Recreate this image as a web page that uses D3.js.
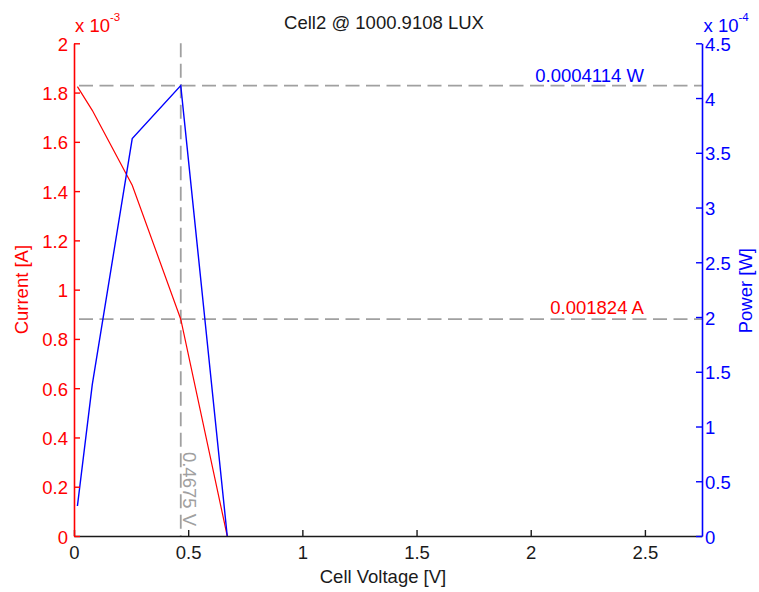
<!DOCTYPE html>
<html>
<head>
<meta charset="utf-8">
<script src="https://cdn.jsdelivr.net/npm/d3@7"></script>
<style>
  html, body { margin: 0; padding: 0; background: #fff; }
  svg { display: block; }
  text { font-family: "Liberation Sans", Arial, sans-serif; }
</style>
</head>
<body>
<svg id="chart" width="759" height="592"></svg>
<script>
// I-V sweep of the cell: voltage [V], current [A], power [W]
const voltage = [0.015, 0.08, 0.255, 0.4675, 0.671];
const current = [1.824e-3, 1.728e-3, 1.424e-3, 0.880e-3, 0];
const power   = [0.274e-4, 1.382e-4, 3.63e-4, 4.114e-4, 0];

// maximum power point and short-circuit current
const vmp  = 0.4675;
const pmax = 0.0004114;
const imp  = 0.880e-3;
const isc  = 0.001824;

// axis ticks
const voltageTicks = [0, 0.5, 1, 1.5, 2, 2.5];
const voltageTickLabels = ["0", "0.5", "1", "1.5", "2", "2.5"];
const currentTicks = [0, 0.2e-3, 0.4e-3, 0.6e-3, 0.8e-3, 1e-3, 1.2e-3, 1.4e-3, 1.6e-3, 1.8e-3, 2e-3];
const currentTickLabels = ["0", "0.2", "0.4", "0.6", "0.8", "1", "1.2", "1.4", "1.6", "1.8", "2"];
const powerTicks = [0, 0.5e-4, 1e-4, 1.5e-4, 2e-4, 2.5e-4, 3e-4, 3.5e-4, 4e-4, 4.5e-4];
const powerTickLabels = ["0", "0.5", "1", "1.5", "2", "2.5", "3", "3.5", "4", "4.5"];

const titleText = "Cell2 @ 1000.9108 LUX";
const xLabel = "Cell Voltage [V]";
const yLeftLabel = "Current [A]";
const yRightLabel = "Power [W]";

const RED = "#ff0000", BLUE = "#0000ff", GREY = "#a0a0a0", INK = "#1a1a1a";
const FS = 18.5;

const svg = d3.select("#chart");
const plotLeft = 74, plotRight = 702, plotTop = 43.3, plotBottom = 536;

const x  = d3.scaleLinear().domain([0, 2.75]).range([plotLeft, plotRight]);
const yI = d3.scaleLinear().domain([0, 2e-3]).range([plotBottom, plotTop]);
const yP = d3.scaleLinear().domain([0, 4.5e-4]).range([plotBottom, plotTop]);

// dashed guides at the maximum power point
const guides = svg.append("g")
  .attr("fill", "none")
  .attr("stroke", GREY)
  .attr("stroke-width", 1.8)
  .attr("stroke-dasharray", "14,6.5");
guides.append("line")
  .attr("x1", x(vmp)).attr("x2", x(vmp))
  .attr("y1", yI(2e-3)).attr("y2", yI(0));
guides.append("line")
  .attr("x1", x(0) + 5).attr("x2", plotRight)
  .attr("y1", yP(pmax)).attr("y2", yP(pmax));
guides.append("line")
  .attr("x1", x(0) + 5).attr("x2", plotRight)
  .attr("y1", yI(imp)).attr("y2", yI(imp));

// curves
const idx = d3.range(voltage.length);
svg.append("path")
  .datum(idx)
  .attr("fill", "none")
  .attr("stroke", RED)
  .attr("stroke-width", 1.2)
  .attr("d", d3.line().x(i => x(voltage[i])).y(i => yI(current[i])));
svg.append("path")
  .datum(idx)
  .attr("fill", "none")
  .attr("stroke", BLUE)
  .attr("stroke-width", 1.4)
  .attr("d", d3.line().x(i => x(voltage[i])).y(i => yP(power[i])));

// axes
function styleAxis(g, color, dy) {
  g.select(".domain").attr("stroke", color).attr("stroke-width", 1.6);
  g.selectAll(".tick line").attr("stroke", color).attr("stroke-width", 1.4);
  g.selectAll(".tick text")
    .attr("fill", color)
    .attr("font-size", FS)
    .attr("font-family", '"Liberation Sans", Arial, sans-serif');
  if (dy !== undefined) g.selectAll(".tick text").attr("dy", dy);
}

const gx = svg.append("g")
  .attr("transform", `translate(0,${plotBottom})`)
  .call(d3.axisBottom(x)
    .tickValues(voltageTicks)
    .tickFormat((d, i) => voltageTickLabels[i])
    .tickSizeInner(-6).tickSizeOuter(0).tickPadding(10));
styleAxis(gx, INK);

const gl = svg.append("g")
  .attr("transform", `translate(${plotLeft},0)`)
  .call(d3.axisLeft(yI)
    .tickValues(currentTicks)
    .tickFormat((d, i) => currentTickLabels[i])
    .tickSizeInner(-6).tickSizeOuter(0).tickPadding(6));
styleAxis(gl, RED, "0.38em");

const gr = svg.append("g")
  .attr("transform", `translate(${plotRight},0)`)
  .call(d3.axisRight(yP)
    .tickValues(powerTicks)
    .tickFormat((d, i) => powerTickLabels[i])
    .tickSizeInner(-6).tickSizeOuter(0).tickPadding(3));
styleAxis(gr, BLUE, "0.38em");

// axis exponents
function exponent(xPos, color, power10) {
  const t = svg.append("text")
    .attr("x", xPos).attr("y", 32)
    .attr("fill", color)
    .attr("font-size", FS);
  t.append("tspan").text("x 10");
  t.append("tspan")
    .attr("font-size", 11.5)
    .attr("dy", -11)
    .text(power10);
}
exponent(75, RED, "-3");
exponent(703.5, BLUE, "-4");

// title and axis labels
svg.append("text")
  .attr("x", 384).attr("y", 29)
  .attr("text-anchor", "middle")
  .attr("fill", INK)
  .attr("font-size", FS)
  .text(titleText);

svg.append("text")
  .attr("x", 383).attr("y", 583)
  .attr("text-anchor", "middle")
  .attr("fill", INK)
  .attr("font-size", FS)
  .text(xLabel);

svg.append("text")
  .attr("transform", `translate(28,${(plotTop + plotBottom) / 2}) rotate(-90)`)
  .attr("text-anchor", "middle")
  .attr("fill", RED)
  .attr("font-size", FS)
  .text(yLeftLabel);

svg.append("text")
  .attr("transform", `translate(752,${(plotTop + plotBottom) / 2 + 1}) rotate(-90)`)
  .attr("text-anchor", "middle")
  .attr("fill", BLUE)
  .attr("font-size", FS)
  .text(yRightLabel);

// annotations of the maximum power point
svg.append("text")
  .attr("x", x(2.5) - 1).attr("y", yP(pmax) - 4)
  .attr("text-anchor", "end")
  .attr("fill", BLUE)
  .attr("font-size", FS)
  .text(d3.format(".7f")(pmax) + " W");

svg.append("text")
  .attr("x", x(2.5) - 1).attr("y", yI(imp) - 5)
  .attr("text-anchor", "end")
  .attr("fill", RED)
  .attr("font-size", FS)
  .text(d3.format(".6f")(isc) + " A");

svg.append("text")
  .attr("transform", `translate(${x(vmp) + 2.5},${yI(0) - 10}) rotate(90)`)
  .attr("text-anchor", "end")
  .attr("fill", GREY)
  .attr("font-size", FS)
  .text(d3.format(".4f")(vmp) + " V");
</script>
</body>
</html>
